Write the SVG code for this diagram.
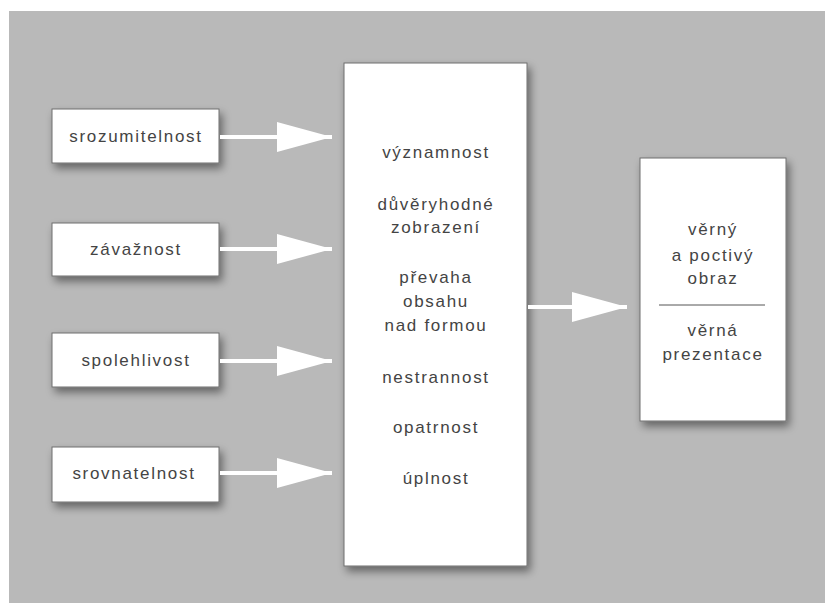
<svg xmlns="http://www.w3.org/2000/svg" width="825" height="603" viewBox="0 0 825 603">
<defs>
<filter id="sh" x="-20%" y="-20%" width="150%" height="150%">
<feDropShadow dx="3" dy="5" stdDeviation="4" flood-color="#000" flood-opacity="0.45"/>
</filter>
<marker id="ah" viewBox="0 0 55 30" refX="55" refY="15" markerWidth="55" markerHeight="30" markerUnits="userSpaceOnUse" orient="auto">
<path d="M0,0 L55,15 L0,30 Z" fill="#fff"/>
</marker>
<style>
.box{fill:#fff;stroke:#6e6e6e;stroke-width:1;filter:url(#sh)}
.t{font-family:"Liberation Sans",Arial,sans-serif;font-size:17px;letter-spacing:1.7px;fill:#444;text-anchor:middle}
.c{stroke:#fff;stroke-width:4;fill:none;marker-end:url(#ah)}
</style>
</defs>
<rect x="0" y="0" width="825" height="603" fill="#fff"/>
<rect x="9" y="11" width="816" height="592" fill="#b9b9b9"/>

<g id="srozumitelnost">
<rect class="box" x="52" y="109" width="167" height="54"/>
<text class="t" x="136" y="142">srozumitelnost</text>
</g>
<g id="zavaznost">
<rect class="box" x="52" y="223" width="167" height="53"/>
<text class="t" x="136" y="255">závažnost</text>
</g>
<g id="spolehlivost">
<rect class="box" x="52" y="333" width="167" height="54"/>
<text class="t" x="136" y="366">spolehlivost</text>
</g>
<g id="srovnatelnost">
<rect class="box" x="52" y="447" width="167" height="55"/>
<text class="t" x="134" y="479">srovnatelnost</text>
</g>

<g id="principy">
<rect class="box" x="344" y="63" width="183" height="503"/>
<text class="t" x="436" y="158">významnost</text>
<text class="t" x="436" y="210">důvěryhodné</text>
<text class="t" x="436" y="233">zobrazení</text>
<text class="t" x="436" y="283">převaha</text>
<text class="t" x="436" y="307">obsahu</text>
<text class="t" x="436" y="331">nad formou</text>
<text class="t" x="436" y="383">nestrannost</text>
<text class="t" x="436" y="433">opatrnost</text>
<text class="t" x="436" y="484">úplnost</text>
</g>

<g id="vysledek">
<rect class="box" x="640" y="158" width="146" height="263"/>
<text class="t" x="713" y="235">věrný</text>
<text class="t" x="713" y="261">a poctivý</text>
<text class="t" x="713" y="284">obraz</text>
<line x1="659" y1="305" x2="765" y2="305" stroke="#555" stroke-width="1"/>
<text class="t" x="713" y="336">věrná</text>
<text class="t" x="713" y="360">prezentace</text>
</g>

<g id="connectors">
<line class="c" x1="220" y1="137" x2="332" y2="137"/>
<line class="c" x1="220" y1="249" x2="332" y2="249"/>
<line class="c" x1="220" y1="361" x2="332" y2="361"/>
<line class="c" x1="220" y1="473" x2="332" y2="473"/>
<line class="c" x1="528" y1="307" x2="627" y2="307"/>
</g>
</svg>
